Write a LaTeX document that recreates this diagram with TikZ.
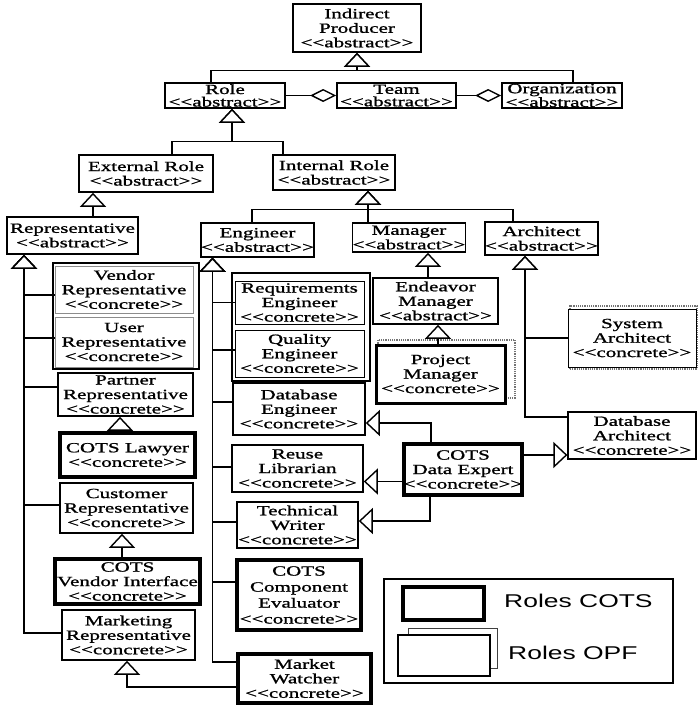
\documentclass[tikz,border=0pt]{standalone}
\usepackage{fontspec}
\setmainfont{Liberation Serif}[FakeStretch=1.5, FakeBold=1.2]
\newfontfamily\legendfont{Liberation Sans}[FakeStretch=1.43]
\usetikzlibrary{arrows.meta}
% stereotype labels, with the guillemet ligature broken up
\newcommand\stabs{<{}<abstract>{}>}
\newcommand\stcon{<{}<concrete>{}>}
\begin{document}
\begin{tikzpicture}[x=1pt,y=-1pt,
  box/.style={draw, line width=1.6pt, fill=white, inner sep=0pt, align=center,
    font=\fontsize{14}{14.5}\selectfont},
  tight/.style={font=\fontsize{14}{12.5}\selectfont},
  cots/.style={box, line width=4.5pt},
  frame/.style={draw, line width=1.9pt, fill=white, inner sep=0pt},
  opfgrey/.style={box, line width=0.8pt, draw=black!45},
  opfthin/.style={box, line width=1pt},
  opfback/.style={draw=black!55, line width=1.2pt, densely dotted, fill=white, inner sep=0pt},
  gen/.style={line width=1.4pt, -{Triangle[length=14pt,width=26pt,fill=white]}},
  agg/.style={line width=1.4pt, -{Diamond[length=26pt,width=13pt,fill=white]}},
  legtext/.style={anchor=west, inner sep=0pt, font=\legendfont\fontsize{18.5}{20}\selectfont}
]
\fill[white] (0,0) rectangle (697,707);
\useasboundingbox (0,0) rectangle (697,707);

% top of the hierarchy
\node[box, minimum width=128pt, minimum height=48pt] (ip) at (357,28) {Indirect\\Producer\\\stabs};
\node[box, tight, minimum width=120pt, minimum height=25pt] (role) at (225,95.5) {Role\\\stabs};
\node[box, tight, minimum width=119pt, minimum height=25pt] (team) at (396.5,95.5) {Team\\\stabs};
\node[box, tight, minimum width=120pt, minimum height=25pt] (org) at (562,95.5) {Organization\\\stabs};

\node[box, minimum width=134pt, minimum height=37pt] (extrole) at (146,173.5) {External Role\\\stabs};
\node[box, minimum width=122pt, minimum height=35pt] (introle) at (334,172.5) {Internal Role\\\stabs};

\node[box, minimum width=131pt, minimum height=37pt] (rep) at (72.5,235.5) {Representative\\\stabs};
\node[box, minimum width=111pt, minimum height=34pt] (eng) at (257.5,240) {Engineer\\\stabs};
\node[box, minimum width=112pt, minimum height=29pt] (mgr) at (409,237.5) {Manager\\\stabs};
\node[box, minimum width=113pt, minimum height=33pt] (arch) at (541.5,238.5) {Architect\\\stabs};

% external roles
\node[frame, minimum width=146pt, minimum height=106pt] (vuframe) at (126,316) {};
\node[opfgrey, minimum width=138pt, minimum height=47pt] (vendor) at (124,289.5) {Vendor\\Representative\\\stcon};
\node[opfgrey, minimum width=138pt, minimum height=50pt] (user) at (124,342) {User\\Representative\\\stcon};
\node[box, minimum width=135pt, minimum height=43pt] (partner) at (125.5,394.5) {Partner\\Representative\\\stcon};
\node[cots, minimum width=135pt, minimum height=44pt] (lawyer) at (127.5,455) {COTS Lawyer\\\stcon};
\node[box, minimum width=133pt, minimum height=50pt] (customer) at (126.5,508) {Customer\\Representative\\\stcon};
\node[box, minimum width=133pt, minimum height=50pt] (marketing) at (128.5,635) {Marketing\\Representative\\\stcon};
\node[cots, minimum width=145pt, minimum height=45pt] (cvi) at (127.5,581.5) {COTS\\Vendor Interface\\\stcon};

% engineers
\node[frame, minimum width=138pt, minimum height=108pt] (rqframe) at (301,327) {};
\node[opfthin, minimum width=129pt, minimum height=43pt] (req) at (299.5,302.5) {Requirements\\Engineer\\\stcon};
\node[opfthin, minimum width=129pt, minimum height=47pt] (qual) at (299.5,353.5) {Quality\\Engineer\\\stcon};
\node[box, minimum width=132pt, minimum height=52pt] (dbe) at (299,409) {Database\\Engineer\\\stcon};
\node[box, minimum width=131pt, minimum height=47pt] (reuse) at (297.5,468.5) {Reuse\\Librarian\\\stcon};
\node[box, minimum width=121pt, minimum height=46pt] (tw) at (297.5,525) {Technical\\Writer\\\stcon};
\node[cots, font=\fontsize{14}{16}\selectfont, minimum width=124pt, minimum height=70pt] (cce) at (299,595) {COTS\\Component\\Evaluator\\\stcon};
\node[cots, minimum width=133pt, minimum height=49pt] (mw) at (304.5,678.5) {Market\\Watcher\\\stcon};

% managers and architects
\node[box, minimum width=125pt, minimum height=46pt] (endeavor) at (435.5,301) {Endeavor\\Manager\\\stabs};
\node[opfback, minimum width=137pt, minimum height=58pt] (pmback) at (446.5,369) {};
\node[box, line width=3pt, minimum width=129pt, minimum height=58pt] (pm) at (440.5,374) {Project\\Manager\\\stcon};
\node[cots, minimum width=118pt, minimum height=51pt] (cde) at (463,469.5) {COTS\\Data Expert\\\stcon};
\node[opfback, line width=1.8pt, minimum width=127pt, minimum height=63pt] (sysback) at (633.5,337.5) {};
\node[box, line width=1pt, minimum width=128pt, minimum height=58pt] (sysarch) at (632,338) {System\\Architect\\\stcon};
\node[box, line width=1.2pt, minimum width=128pt, minimum height=47pt] (dba) at (632,435.5) {Database\\Architect\\\stcon};

% legend
\node[draw, line width=1.6pt, inner sep=0pt, minimum width=289pt, minimum height=104pt] (legend) at (528.5,631) {};
\node[cots, minimum width=81pt, minimum height=33pt] (legcots) at (443.5,603.5) {};
\node[opfback, solid, draw=black!75, line width=1pt, minimum width=89pt, minimum height=40pt] (legopfback) at (452.5,648) {};
\node[box, line width=2.6pt, minimum width=92pt, minimum height=41pt] (legopf) at (444,655.5) {};
\node[legtext] (legcotstxt) at (504,601) {Roles COTS};
\node[legtext] (legopftxt) at (508,653) {Roles OPF};

% generalisation: top levels
\draw[gen] ([xshift=-14]role.north) -- ++(0,-12) -| (ip.south);
\draw[gen] ([xshift=11]org.north) -- ++(0,-12) -| (ip.south);
\draw[agg] (role.east) -- (team.west);
\draw[agg] (team.east) -- (org.west);
\draw[gen] ([xshift=26]extrole.north) -- ++(0,-13) -| ([xshift=7]role.south);
\draw[gen] ([xshift=-51]introle.north) -- ++(0,-13) -| ([xshift=7]role.south);
\draw[gen] ([xshift=20.5]rep.north) -- ([xshift=-53]extrole.south);
\draw[gen] ([xshift=-5.5]eng.north) -- ++(0,-13) -| ([xshift=34]introle.south);
\draw[gen] ([xshift=-41]mgr.north) -- ([xshift=34]introle.south);
\draw[gen] ([xshift=-28.5]arch.north) -- ++(0,-12) -| ([xshift=34]introle.south);

% managers and architects
\draw[gen] ([xshift=-7.5]endeavor.north) -- ([xshift=19]mgr.south);
\draw[gen] ([xshift=-2.5]pm.north) -- ([xshift=2.5]endeavor.south);
\draw[gen] (sysarch.west) -| ([xshift=-16.5]arch.south);
\draw[gen] ([yshift=18.5]dba.west) -| ([xshift=-16.5]arch.south);

% representatives
\draw[gen] ([yshift=-5.5]vendor.west) -| ([xshift=-48.5]rep.south);
\draw[gen] ([yshift=4]user.west) -| ([xshift=-48.5]rep.south);
\draw[gen] ([yshift=7.5]partner.west) -| ([xshift=-48.5]rep.south);
\draw[gen] ([yshift=3]customer.west) -| ([xshift=-48.5]rep.south);
\draw[gen] ([yshift=2]marketing.west) -| ([xshift=-48.5]rep.south);
\draw[gen] ([xshift=-7.5]lawyer.north) -- ([xshift=-5.5]partner.south);
\draw[gen] ([xshift=-5.5]cvi.north) -- ([xshift=-4.5]customer.south);
\draw[gen] ([yshift=-8.5]mw.west) -| ([xshift=-1.5]marketing.south);

% engineers
\draw[gen] (req.west) -| ([xshift=-45]eng.south);
\draw[gen] ([yshift=3.5]qual.west) -| ([xshift=-45]eng.south);
\draw[gen] ([yshift=7]dbe.west) -| ([xshift=-45]eng.south);
\draw[gen] ([yshift=1.5]reuse.west) -| ([xshift=-45]eng.south);
\draw[gen] ([yshift=3]tw.west) -| ([xshift=-45]eng.south);
\draw[gen] ([yshift=13]cce.west) -| ([xshift=-45]eng.south);
\draw[gen] ([yshift=16.5]mw.west) -| ([xshift=-45]eng.south);

% COTS data expert
\coordinate (cdeL) at ([yshift=-12]cde.west);
\coordinate (cdeR) at ([yshift=14.5]cde.east);
\draw[gen] ([xshift=-32]cde.north) |- ([yshift=-14]dbe.east);
\draw[gen] (cdeL) -- (cdeL -| reuse.east);
\draw[gen] ([xshift=-33]cde.south) |- ([yshift=4]tw.east);
\draw[gen] (cdeR) -- (cdeR -| dba.west);
\end{tikzpicture}
\end{document}
